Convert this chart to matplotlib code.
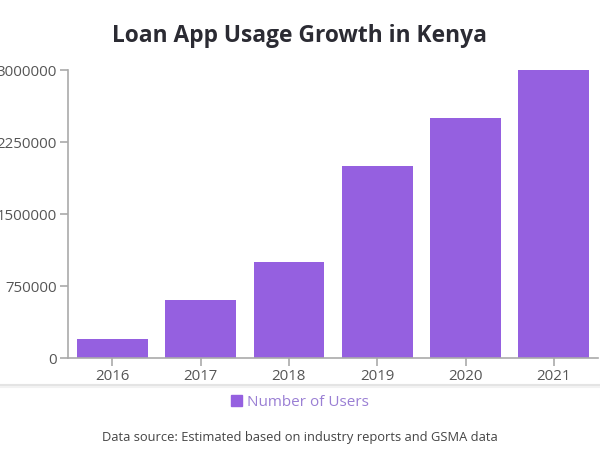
import matplotlib
matplotlib.use("Agg")
import matplotlib.pyplot as plt
from matplotlib.lines import Line2D
from matplotlib.patches import Patch

years = ["2016", "2017", "2018", "2019", "2020", "2021"]
users = [200000, 600000, 1000000, 2000000, 2500000, 3000000]
yticks = [0, 750000, 1500000, 2250000, 3000000]
series_name = "Number of Users"

plt.rcParams['font.family'] = ['Open Sans', 'DejaVu Sans']

fig = plt.figure(figsize=(6, 4.59), dpi=100)
ax = fig.add_axes([68/600, 1-358/459, 530/600, 288/459])

bar_color = '#9560e0'
ax.bar(range(len(years)), users, width=0.8, color=bar_color, label=series_name)
ax.set_xlim(-0.5, len(years) - 0.5)
ax.set_ylim(0, 3000000)
ax.set_xticks(range(len(years)))
ax.set_xticklabels(years)
ax.set_yticks(yticks)
ax.set_yticklabels([str(v) for v in yticks])

for s in ['top', 'right']:
    ax.spines[s].set_visible(False)
for s in ['left', 'bottom']:
    ax.spines[s].set_color('#aaaaaa')
    ax.spines[s].set_linewidth(1.2)
ax.tick_params(axis='both', colors='#aaaaaa', length=6, width=1.2, labelsize=10.8,
               labelcolor='#555555', pad=2)

fig.text(0.5, 1-36/459, "Loan App Usage Growth in Kenya", ha='center', va='center',
         fontsize=16.4, fontweight='bold', color='#2b2b33')

# card divider
fig.add_artist(Line2D([0, 1], [1-385/459, 1-385/459], color='#e4e4e4', lw=1.5,
                      transform=fig.transFigure))
fig.add_artist(Line2D([0, 1], [1-387/459, 1-387/459], color='#f2f2f2', lw=1.5,
                      transform=fig.transFigure))

leg = fig.legend(handles=[Patch(color=bar_color, label=series_name)],
                 loc='center', bbox_to_anchor=(0.5, 1-402/459), frameon=False,
                 fontsize=11, handlelength=0.7, handleheight=0.7,
                 handletextpad=0.3)
for t in leg.get_texts():
    t.set_color('#9a7fd4')

fig.text(0.5, 1-437/459, "Data source: Estimated based on industry reports and GSMA data",
         ha='center', va='center', fontsize=9.3, color='#444444')

fig.savefig("out.png", dpi=100)
